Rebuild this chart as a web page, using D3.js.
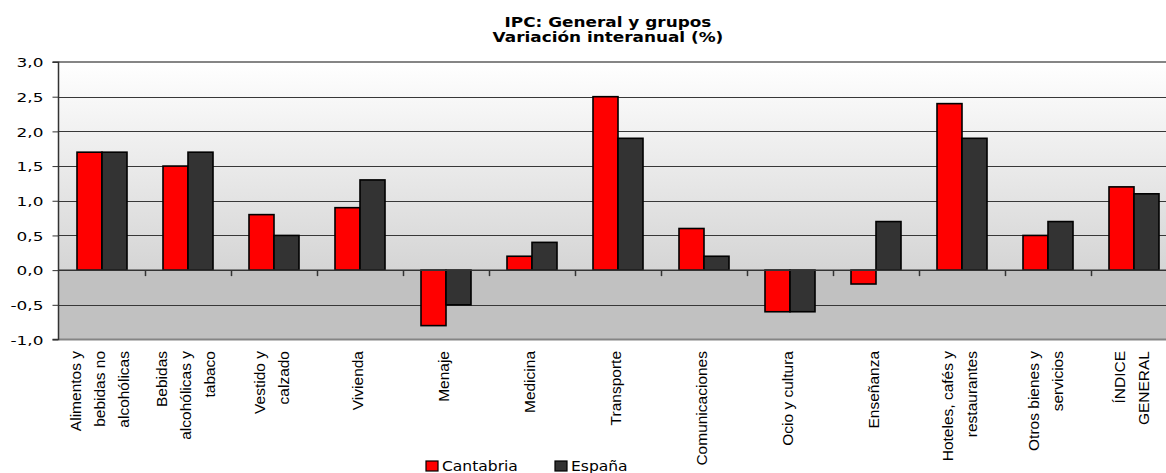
<!DOCTYPE html>
<html>
<head>
<meta charset="utf-8">
<script src="https://cdn.jsdelivr.net/npm/d3@7"></script>
<style>
  html, body { margin: 0; padding: 0; background: #fff; overflow: hidden; }
  svg { display: block; }
</style>
</head>
<body>
<svg id="chart" width="1166" height="473"></svg>
<script>
// data
const categories = [
  ['Alimentos y', 'bebidas no', 'alcohólicas'],
  ['Bebidas', 'alcohólicas y', 'tabaco'],
  ['Vestido y', 'calzado'],
  ['Vivienda'],
  ['Menaje'],
  ['Medicina'],
  ['Transporte'],
  ['Comunicaciones'],
  ['Ocio y cultura'],
  ['Enseñanza'],
  ['Hoteles, cafés y', 'restaurantes'],
  ['Otros bienes y', 'servicios'],
  ['ÍNDICE', 'GENERAL']
];
const cantabria = [1.7, 1.5, 0.8, 0.9, -0.8, 0.2, 2.5, 0.6, -0.6, -0.2, 2.4, 0.5, 1.2];
const espana    = [1.7, 1.7, 0.5, 1.3, -0.5, 0.4, 1.9, 0.2, -0.6, 0.7, 1.9, 0.7, 1.1];
const seriesNames = ['Cantabria', 'España'];
const colors = ['#ff0000', '#333333'];
const yTicks = [-1, -0.5, 0, 0.5, 1, 1.5, 2, 2.5, 3];
const titleLines = ['IPC: General y grupos', 'Variación interanual (%)'];

const svg = d3.select('#chart');
const L = 59, T = 62, B = 339.5, CW = 86;
const R = L + categories.length * CW;   // runs past the window edge, like the original

const fmt = v => d3.format('.1f')(v).replace('.', ',').replace('−', '-');

// the original is stretched sideways, so widen horizontal text to match
function stretch(sel, k) {
  sel.each(function () {
    const w = this.getComputedTextLength();
    d3.select(this).attr('textLength', w * k).attr('lengthAdjust', 'spacingAndGlyphs');
  });
}

const x0 = d3.scaleBand().domain(d3.range(categories.length)).range([L, R]).padding(0);
const x1 = d3.scaleBand().domain(seriesNames).range([0, x0.bandwidth()]).paddingOuter(0.72).paddingInner(0);
const y  = d3.scaleLinear().domain([-1, 3]).range([B, T]);

// background: gradient above zero, flat grey below
const defs = svg.append('defs');
const g1 = defs.append('linearGradient').attr('id', 'bg').attr('x1', 0).attr('y1', 0).attr('x2', 0).attr('y2', 1);
g1.append('stop').attr('offset', '0%').attr('stop-color', '#ffffff');
g1.append('stop').attr('offset', '100%').attr('stop-color', '#d5d5d5');

svg.append('rect').attr('x', L).attr('y', y(3)).attr('width', R - L).attr('height', y(0) - y(3)).attr('fill', 'url(#bg)');
svg.append('rect').attr('x', L).attr('y', y(0)).attr('width', R - L).attr('height', y(-1) - y(0)).attr('fill', '#c1c1c1');

// gridlines
svg.append('g').selectAll('line').data(yTicks.filter(d => d > -1 && d < 3 && d !== 0)).join('line')
  .attr('x1', L).attr('x2', R).attr('y1', d => Math.round(y(d)) + 0.5).attr('y2', d => Math.round(y(d)) + 0.5)
  .attr('stroke', '#383838').attr('stroke-width', 1);

// top / bottom borders
svg.append('g').selectAll('line').data([3, -1]).join('line')
  .attr('x1', L).attr('x2', R).attr('y1', d => y(d)).attr('y2', d => y(d))
  .attr('stroke', '#858585').attr('stroke-width', 2);

// y axis
const yAxis = d3.axisLeft(y).tickValues(yTicks).tickSize(6).tickPadding(9).tickFormat(fmt);
const ya = svg.append('g').attr('transform', `translate(${L - 0.5},0)`).call(yAxis);
ya.select('.domain').attr('stroke', '#333').attr('stroke-width', 1.5).attr('d', `M-6,${y(3)}H0V${y(-1)}H-6`);
ya.selectAll('.tick line').attr('stroke', '#333');
ya.selectAll('.tick text').attr('fill', '#000').style('font', '13px "DejaVu Sans"').attr('dy', '0.36em');
stretch(ya.selectAll('.tick text'), 1.3);

// bars
const bars = svg.append('g');
categories.forEach((c, i) => {
  const vals = [cantabria[i], espana[i]];
  bars.selectAll(null).data(vals).enter().append('rect')
    .attr('x', (v, j) => x0(i) + x1(seriesNames[j]))
    .attr('y', v => y(Math.max(0, v)))
    .attr('width', x1.bandwidth())
    .attr('height', v => Math.abs(y(v) - y(0)))
    .attr('fill', (v, j) => colors[j])
    .attr('stroke', '#000').attr('stroke-width', 1.6);
});

// zero line with category ticks
svg.append('line').attr('x1', L).attr('x2', R).attr('y1', y(0)).attr('y2', y(0)).attr('stroke', '#333').attr('stroke-width', 1.5);
svg.append('g').selectAll('line').data(d3.range(1, categories.length)).join('line')
  .attr('x1', i => x0(i) + 0.5).attr('x2', i => x0(i) + 0.5)
  .attr('y1', y(0)).attr('y2', y(0) + 6)
  .attr('stroke', '#333').attr('stroke-width', 1.5);

// category labels, rotated
const lab = svg.append('g').style('font', '15.5px "Liberation Sans", Arial, sans-serif');
categories.forEach((lines, i) => {
  const cx = x0(i) + x0.bandwidth() / 2 - 2;
  const sp = 24;
  lines.forEach((t, k) => {
    const off = (k - (lines.length - 1) / 2) * sp;
    lab.append('text')
      .attr('transform', `translate(${cx + off},351) rotate(-90)`)
      .attr('text-anchor', 'end')
      .attr('dy', '0.35em')
      .text(t);
  });
});

// title
const tt = svg.append('g').attr('text-anchor', 'middle').style('font', 'bold 13.5px "DejaVu Sans"');
tt.selectAll('text').data(titleLines).join('text')
  .attr('x', 608).attr('y', (d, i) => 27 + i * 15).text(d => d);
stretch(tt.selectAll('text'), 1.25);

// legend
const lg = svg.append('g');
const lgX = [426, 555];
seriesNames.forEach((n, i) => {
  lg.append('rect').attr('x', lgX[i]).attr('y', 461).attr('width', 12).attr('height', 10)
    .attr('fill', colors[i]).attr('stroke', '#000').attr('stroke-width', 1.2);
  const t = lg.append('text').attr('x', lgX[i] + 16).attr('y', 471)
    .style('font', '13.5px "DejaVu Sans"').text(n);
  stretch(t, 1.15);
});
</script>
</body>
</html>
